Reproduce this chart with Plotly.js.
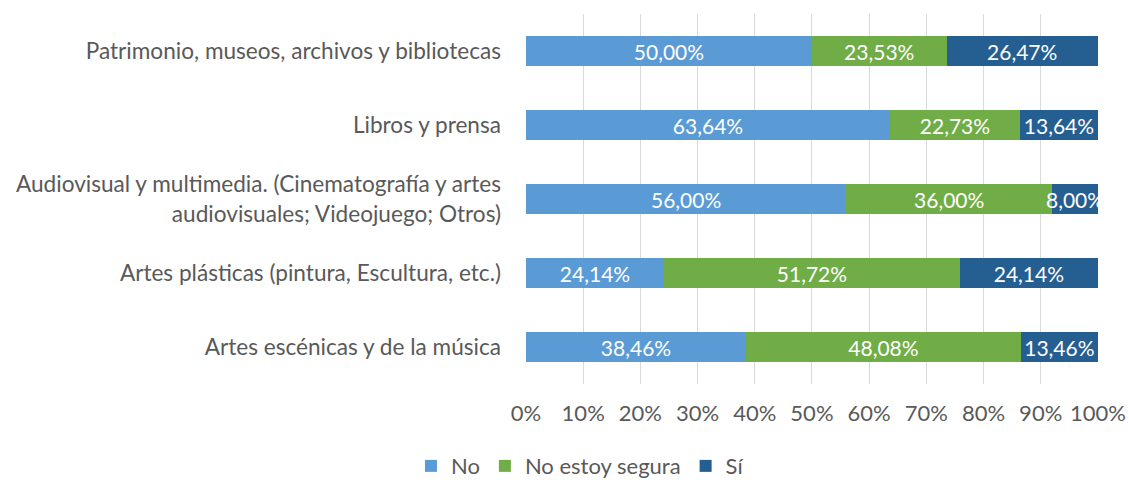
<!DOCTYPE html>
<html>
<head>
<meta charset="utf-8">
<script src="https://cdn.plot.ly/plotly-3.0.1.min.js"></script>
<style>html,body{margin:0;padding:0;background:#fff;}#chart{width:1129px;height:480px;}</style>
</head>
<body>
<div id="chart"></div>
<script>
const categories = [
  "Patrimonio, museos, archivos y bibliotecas",
  "Libros y prensa",
  "Audiovisual y multimedia. (Cinematografía y artes<br>audiovisuales; Videojuego; Otros)",
  "Artes plásticas (pintura, Escultura, etc.)",
  "Artes escénicas y de la música"
];
const seriesNames = ["No", "No estoy segura", "Sí"];
const noValues = [50.00, 63.64, 56.00, 24.14, 38.46];
const noSeguraValues = [23.53, 22.73, 36.00, 51.72, 48.08];
const siValues = [26.47, 13.64, 8.00, 24.14, 13.46];
const xTickLabels = ["0%","10%","20%","30%","40%","50%","60%","70%","80%","90%","100%"];

const colors = ["#5B9BD5", "#70AD47", "#255E91"];
const fontFam = "Lato, 'Open Sans', sans-serif";
const fmt = v => v.toFixed(2).replace('.', ',') + '%';

const allSeries = [noValues, noSeguraValues, siValues];
const traces = allSeries.map((vals, i) => ({
  type: 'bar',
  orientation: 'h',
  name: seriesNames[i],
  y: categories,
  x: vals.map(v => v / 100),
  text: vals.map(fmt),
  textposition: 'inside',
  insidetextanchor: 'middle',
  constraintext: 'none',
  textfont: {color: '#ffffff', size: 21, family: fontFam},
  marker: {color: colors[i], line: {width: 0}},
  hoverinfo: 'none',
  cliponaxis: false
}));

const layout = {
  width: 1129, height: 480,
  margin: {l: 526, r: 31, t: 14, b: 96},
  barmode: 'stack',
  bargap: 0.595,
  paper_bgcolor: '#ffffff',
  plot_bgcolor: '#ffffff',
  font: {family: fontFam, color: '#595959', size: 22},
  xaxis: {
    range: [0, 1.0002],
    tickvals: xTickLabels.map((t, i) => i / 10),
    ticktext: xTickLabels,
    showgrid: true,
    gridcolor: '#d9d9d9',
    gridwidth: 1,
    zeroline: false,
    showline: false,
    ticks: '',
    ticklabelstandoff: 14,
    tickfont: {size: 22, color: '#595959', family: fontFam},
    fixedrange: true,
    automargin: false
  },
  yaxis: {
    autorange: 'reversed',
    showgrid: false,
    zeroline: false,
    showline: false,
    ticks: '',
    ticklabelstandoff: 24,
    tickfont: {size: 22.6, color: '#595959', family: fontFam},
    fixedrange: true,
    automargin: false
  },
  showlegend: true,
  legend: {
    orientation: 'h',
    xref: 'container', yref: 'container',
    x: 0.364, xanchor: 'left',
    y: 0.029, yanchor: 'middle',
    font: {size: 22, color: '#595959', family: fontFam},
    traceorder: 'normal',
    itemwidth: 30
  }
};

Plotly.newPlot('chart', traces, layout, {displayModeBar: false, staticPlot: true});
</script>
</body>
</html>
